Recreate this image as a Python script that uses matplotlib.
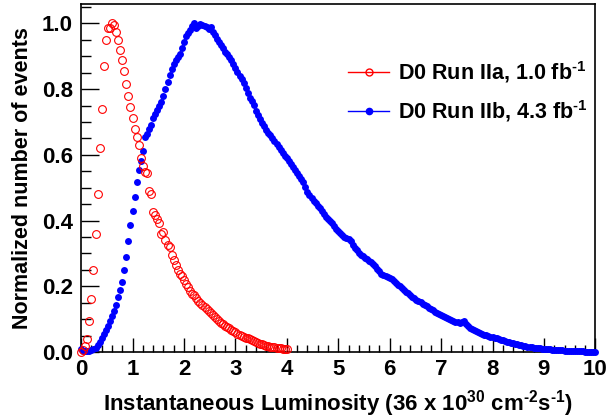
import numpy as np
import matplotlib
matplotlib.use("Agg")
import matplotlib.pyplot as plt
from matplotlib.lines import Line2D

plt.rcParams['font.family'] = ['Liberation Sans', 'DejaVu Sans']
plt.rcParams['font.weight'] = 'bold'
plt.rcParams['mathtext.fontset'] = 'custom'
plt.rcParams['mathtext.rm'] = 'Liberation Sans:bold'
plt.rcParams['mathtext.bf'] = 'Liberation Sans:bold'
plt.rcParams['mathtext.it'] = 'Liberation Sans:bold'

# bin width of the luminosity histograms
bin_w = 0.04

# D0 Run IIa, 1.0 fb-1 (x = 0 .. 4.0)
run2a = [
    0.000, 0.006, 0.018, 0.040, 0.095, 0.160, 0.250, 0.360, 0.480, 0.620,
    0.740, 0.870, 0.950, 0.985, 0.985, 1.000, 0.995, 0.975, 0.950, 0.920,
    0.890, 0.855, 0.815, 0.780, 0.745, 0.712, 0.680, 0.655, 0.630, 0.590,
    0.565, 0.548, 0.545, 0.490, 0.482, 0.425, 0.418, 0.404, 0.394, 0.360,
    0.365, 0.340, 0.325, 0.320, 0.295, 0.280, 0.265, 0.250, 0.238, 0.232,
    0.218, 0.208, 0.198, 0.186, 0.177, 0.172, 0.165, 0.156, 0.150, 0.143,
    0.138, 0.132, 0.126, 0.119, 0.112, 0.106, 0.099, 0.094, 0.089, 0.085,
    0.080, 0.076, 0.072, 0.068, 0.064, 0.060, 0.056, 0.053, 0.050, 0.047,
    0.044, 0.041, 0.038, 0.035, 0.032, 0.029, 0.027, 0.025, 0.023, 0.021,
    0.019, 0.017, 0.016, 0.015, 0.014, 0.013, 0.012, 0.011, 0.010, 0.009,
    0.008,
]

# D0 Run IIb, 4.3 fb-1 (x = 0 .. 10.0)
run2b = [
    0.008, 0.004, 0.003, 0.003, 0.004, 0.006, 0.009, 0.013, 0.021, 0.031,
    0.044, 0.056, 0.068, 0.080, 0.095, 0.110, 0.126, 0.144, 0.166, 0.190,
    0.214, 0.250, 0.288, 0.337, 0.388, 0.430, 0.472, 0.518, 0.553, 0.582,
    0.612, 0.653, 0.664, 0.679, 0.691, 0.711, 0.724, 0.736, 0.748, 0.760,
    0.779, 0.800, 0.822, 0.844, 0.862, 0.876, 0.889, 0.899, 0.906, 0.926,
    0.945, 0.962, 0.972, 0.980, 0.993, 1.000, 0.985, 0.992, 0.997, 0.995,
    0.993, 0.990, 0.982, 0.988, 0.975, 0.964, 0.954, 0.944, 0.936, 0.924,
    0.914, 0.907, 0.899, 0.890, 0.878, 0.864, 0.851, 0.840, 0.830, 0.819,
    0.803, 0.789, 0.773, 0.763, 0.751, 0.735, 0.720, 0.709, 0.698, 0.687,
    0.676, 0.668, 0.660, 0.651, 0.642, 0.633, 0.624, 0.616, 0.606, 0.597,
    0.589, 0.580, 0.571, 0.562, 0.553, 0.544, 0.536, 0.527, 0.518, 0.503,
    0.486, 0.477, 0.469, 0.461, 0.453, 0.445, 0.437, 0.429, 0.421, 0.412,
    0.406, 0.399, 0.392, 0.383, 0.375, 0.369, 0.362, 0.356, 0.351, 0.347,
    0.344, 0.337, 0.327, 0.318, 0.309, 0.300, 0.295, 0.291, 0.287, 0.283,
    0.278, 0.273, 0.267, 0.261, 0.254, 0.245, 0.237, 0.233, 0.230, 0.227,
    0.225, 0.221, 0.215, 0.210, 0.205, 0.200, 0.195, 0.189, 0.184, 0.179,
    0.174, 0.168, 0.163, 0.159, 0.155, 0.151, 0.147, 0.143, 0.139, 0.135,
    0.131, 0.127, 0.123, 0.119, 0.115, 0.112, 0.109, 0.106, 0.103, 0.101,
    0.098, 0.095, 0.092, 0.090, 0.088, 0.092, 0.093, 0.084, 0.078, 0.074,
    0.069, 0.066, 0.063, 0.060, 0.057, 0.055, 0.053, 0.051, 0.049, 0.047,
    0.045, 0.043, 0.041, 0.039, 0.037, 0.035, 0.033, 0.031, 0.029, 0.027,
    0.026, 0.024, 0.023, 0.021, 0.020, 0.018, 0.017, 0.016, 0.015, 0.014,
    0.013, 0.012, 0.012, 0.011, 0.010, 0.009, 0.009, 0.008, 0.008, 0.007,
    0.007, 0.006, 0.006, 0.005, 0.005, 0.004, 0.004, 0.004, 0.003, 0.003,
    0.003, 0.002, 0.002, 0.002, 0.002, 0.001, 0.001, 0.001, 0.001, 0.001,
    0.000,
]

labels = ['D0 Run IIa, 1.0 fb$^{\\text{-1}}$', 'D0 Run IIb, 4.3 fb$^{\\text{-1}}$']

x2a = np.arange(len(run2a)) * bin_w
x2b = np.arange(len(run2b)) * bin_w

fig = plt.figure(figsize=(6.1, 4.2), dpi=100)
ax = fig.add_axes([0.133, 0.162, 0.843, 0.829])

ax.plot(x2b, run2b, 'o', color='#0000ff', ms=5.0, mew=0, clip_on=False, zorder=3)
ax.plot(x2a, run2a, 'o', mfc='none', mec='#ff0000', ms=5.6, mew=0.8,
        clip_on=False, zorder=4)

ax.set_xlim(0, 10)
ax.set_ylim(0, 1.06)
ax.set_xticks(np.arange(0, 11, 1))
ax.set_xticks(np.arange(0, 10.01, 0.2), minor=True)
ax.set_yticks(np.arange(0, 1.01, 0.2))
ax.set_yticks(np.arange(0, 1.06, 0.05), minor=True)
ax.yaxis.set_major_formatter(matplotlib.ticker.FormatStrFormatter('%.1f'))

ax.tick_params(which='both', direction='in', top=False, right=False,
               labelsize=16, width=1.0)
ax.tick_params(axis='x', which='major', length=10, pad=5)
ax.tick_params(axis='x', which='minor', length=5)
ax.tick_params(axis='y', which='major', length=13, pad=6)
ax.tick_params(axis='y', which='minor', length=7)
for lab in ax.get_xticklabels() + ax.get_yticklabels():
    lab.set_fontweight('bold')
for sp in ax.spines.values():
    sp.set_linewidth(1.2)

ax.set_xlabel('Instantaneous Luminosity (36 x 10$^{30}$ cm$^{\\text{-2}}$s$^{\\text{-1}}$)',
              fontsize=16, fontweight='bold', labelpad=6)
ax.set_ylabel('Normalized number of events', fontsize=15.5,
              fontweight='bold', labelpad=6)

handles = [
    Line2D([], [], color='#ff0000', lw=1, marker='o', mfc='none',
           mec='#ff0000', ms=5, mew=1),
    Line2D([], [], color='#0000ff', lw=1, marker='o', mfc='#0000ff',
           mec='#0000ff', ms=4.5),
]
ax.legend(handles, labels, loc='upper left', bbox_to_anchor=(0.482, 0.898),
          frameon=False, handlelength=1.9, handletextpad=0.4,
          labelspacing=0.65, prop={'weight': 'bold', 'size': 15.5})

fig.savefig('out.png', dpi=100)
